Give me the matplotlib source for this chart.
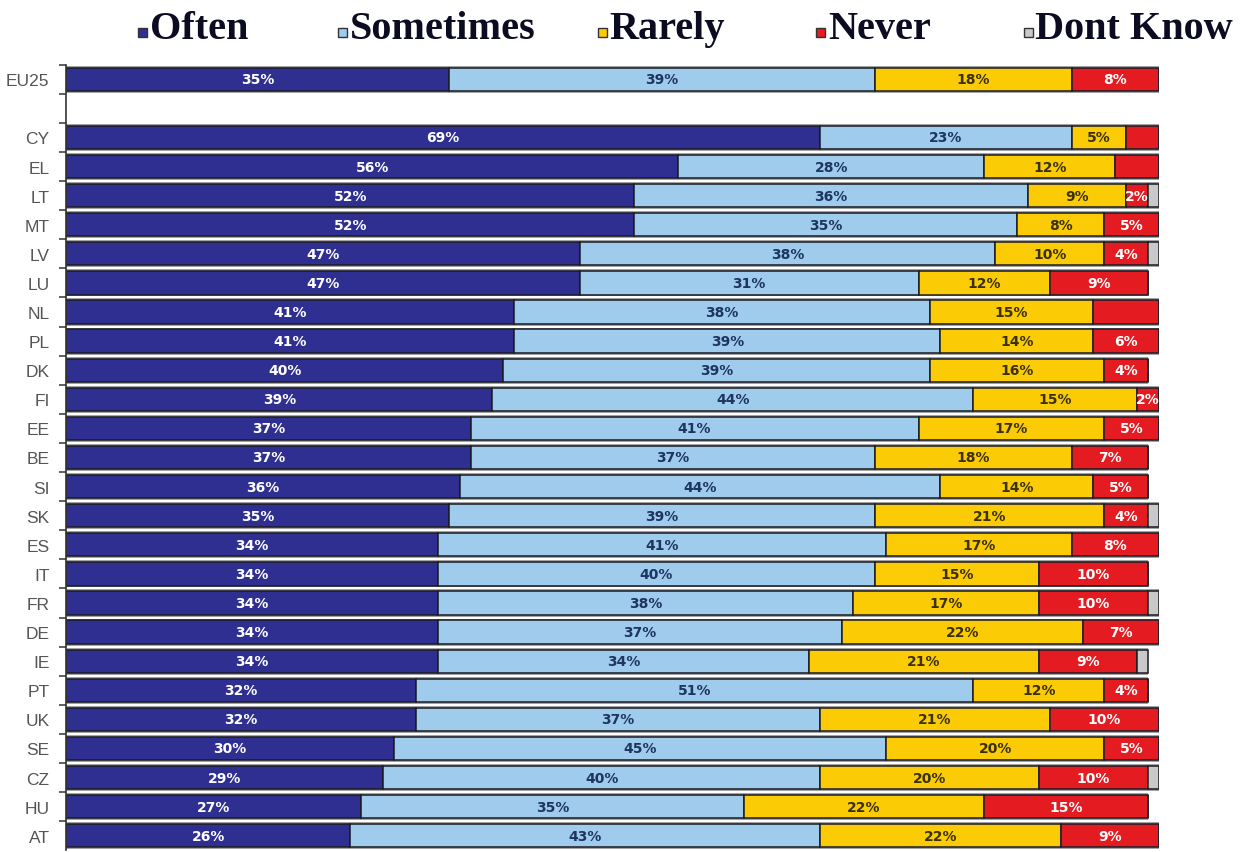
import matplotlib
matplotlib.use("Agg")
import matplotlib.pyplot as plt
from matplotlib.patches import Rectangle

countries = ["EU25", "CY", "EL", "LT", "MT", "LV", "LU", "NL", "PL", "DK", "FI", "EE", "BE",
             "SI", "SK", "ES", "IT", "FR", "DE", "IE", "PT", "UK", "SE", "CZ", "HU", "AT"]
often = [35, 69, 56, 52, 52, 47, 47, 41, 41, 40, 39, 37, 37, 36, 35, 34, 34, 34, 34, 34, 32, 32, 30, 29, 27, 26]
sometimes = [39, 23, 28, 36, 35, 38, 31, 38, 39, 39, 44, 41, 37, 44, 39, 41, 40, 38, 37, 34, 51, 37, 45, 40, 35, 43]
rarely = [18, 5, 12, 9, 8, 10, 12, 15, 14, 16, 15, 17, 18, 14, 21, 17, 15, 17, 22, 21, 12, 21, 20, 20, 22, 22]
never = [8, 3, 4, 2, 5, 4, 9, 6, 6, 4, 2, 5, 7, 5, 4, 8, 10, 10, 7, 9, 4, 10, 5, 10, 15, 9]
dont_know = [0, 0, 0, 1, 0, 1, 0, 0, 0, 0, 0, 0, 0, 0, 1, 0, 0, 1, 0, 1, 0, 0, 0, 1, 0, 0]
never_unlabelled = ["CY", "EL", "NL"]

series_names = ["Often", "Sometimes", "Rarely", "Never", "Dont Know"]
series = [often, sometimes, rarely, never, dont_know]
colors = ["#2f2f92", "#9fcbec", "#fbcc05", "#e51b22", "#c9c9c9"]
label_colors = ["white", "#1d3560", "#3a3000", "white", None]

fig = plt.figure(figsize=(12.49, 8.53), dpi=100)
ax = fig.add_axes([0.053, 0.002, 0.875, 0.921])

# EU25 first, then one empty row, then the countries
ypos = [0] + list(range(2, len(countries) + 1))
n_rows = len(countries) + 1

# grey shadow band behind each full bar
for i, y in enumerate(ypos):
    total = sum(s[i] for s in series)
    ax.barh(y, total, height=0.93, color="#a3a3a3", edgecolor="none", zorder=1)

left = [0] * len(countries)
for k, (name, vals) in enumerate(zip(series_names, series)):
    ax.barh(ypos, vals, left=left, height=0.8, color=colors[k],
            edgecolor="#1b1b24", linewidth=1.1, zorder=2)
    if label_colors[k] is not None:
        for i, v in enumerate(vals):
            if v <= 0:
                continue
            if k == 3 and countries[i] in never_unlabelled:
                continue
            ax.text(left[i] + v / 2, ypos[i], f"{v}%", ha="center", va="center",
                    color=label_colors[k], fontsize=10, fontweight="bold",
                    family="DejaVu Sans", zorder=3)
    left = [a + b for a, b in zip(left, vals)]

ax.set_xlim(0, 100)
ax.set_ylim(n_rows - 0.5, -0.5)
ax.set_yticks(ypos)
ax.set_yticklabels(countries, fontsize=12.5, color="#555555", family="Liberation Sans")
ax.tick_params(axis="y", which="major", length=0, pad=12)
ax.set_yticks([i - 0.5 for i in range(n_rows)], minor=True)
ax.tick_params(axis="y", which="minor", length=5, width=1.2, color="#444444", direction="out")
ax.set_xticks([])
for side in ["top", "right", "bottom"]:
    ax.spines[side].set_visible(False)
ax.spines["left"].set_color("#333333")
ax.spines["left"].set_linewidth(1.2)

# legend row drawn across the top
legend_x = [0.120, 0.280, 0.488, 0.663, 0.829]
for name, col, x in zip(series_names, colors, legend_x):
    fig.add_artist(Rectangle((x - 0.0095, 0.956), 0.0072, 0.0105, transform=fig.transFigure,
                             facecolor=col, edgecolor="#333333", linewidth=1.0))
    fig.text(x, 0.966, name, fontsize=29, fontweight="bold", family="Liberation Serif",
             color="#0b0b22", ha="left", va="center")

fig.savefig("out.png", dpi=100, facecolor="white")
